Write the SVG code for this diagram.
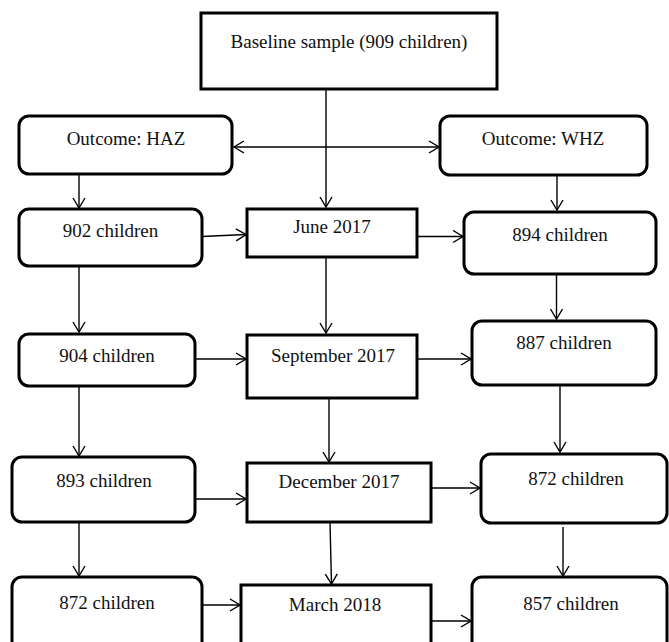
<svg xmlns="http://www.w3.org/2000/svg" width="669" height="642" viewBox="0 0 669 642">
<style>
.box{fill:#fff;stroke:#000;stroke-width:3}
.t{font-family:"Liberation Serif","Times New Roman",serif;font-size:19px;fill:#111;text-anchor:middle}
.c{fill:none;stroke:#000;stroke-width:1.4}
</style>
<defs>
<marker id="ah" viewBox="-11 -7 12 14" refX="0" refY="0" markerWidth="12" markerHeight="14" markerUnits="userSpaceOnUse" orient="auto-start-reverse">
<path d="M-10,-6 L0,0 L-10,6" fill="none" stroke="#000" stroke-width="1.4"/>
</marker>
</defs>
<rect width="669" height="642" fill="#fff"/>
<g id="connectors">
<line class="c" x1="326" y1="89" x2="326" y2="207" marker-end="url(#ah)"/>
<line class="c" x1="234" y1="147" x2="439" y2="147" marker-start="url(#ah)" marker-end="url(#ah)"/>
<line class="c" x1="79" y1="174" x2="79" y2="208" marker-end="url(#ah)"/>
<line class="c" x1="557" y1="175" x2="557" y2="210" marker-end="url(#ah)"/>
<line class="c" x1="202" y1="236.5" x2="246" y2="234.5" marker-end="url(#ah)"/>
<line class="c" x1="417" y1="236.5" x2="463" y2="236.5" marker-end="url(#ah)"/>
<line class="c" x1="79" y1="266" x2="79" y2="332" marker-end="url(#ah)"/>
<line class="c" x1="326" y1="257" x2="326" y2="333" marker-end="url(#ah)"/>
<line class="c" x1="556.5" y1="274" x2="556.5" y2="319" marker-end="url(#ah)"/>
<line class="c" x1="195" y1="359" x2="246" y2="359" marker-end="url(#ah)"/>
<line class="c" x1="417" y1="359" x2="471" y2="359" marker-end="url(#ah)"/>
<line class="c" x1="79" y1="386" x2="79" y2="456" marker-end="url(#ah)"/>
<line class="c" x1="329" y1="398" x2="329" y2="462" marker-end="url(#ah)"/>
<line class="c" x1="560" y1="385" x2="560" y2="452" marker-end="url(#ah)"/>
<line class="c" x1="195" y1="499" x2="246" y2="499" marker-end="url(#ah)"/>
<line class="c" x1="431" y1="488" x2="480" y2="488" marker-end="url(#ah)"/>
<line class="c" x1="79" y1="522" x2="79" y2="576" marker-end="url(#ah)"/>
<line class="c" x1="330" y1="522" x2="331.5" y2="584" marker-end="url(#ah)"/>
<line class="c" x1="563" y1="527" x2="563" y2="576" marker-end="url(#ah)"/>
<line class="c" x1="202" y1="605" x2="240" y2="605" marker-end="url(#ah)"/>
<line class="c" x1="431" y1="621" x2="471" y2="621" marker-end="url(#ah)"/>
</g>
<g id="baseline"><rect class="box" x="201" y="13" width="296" height="76"/><text class="t" x="349" y="48">Baseline sample (909 children)</text></g>
<g id="haz"><rect class="box" x="19" y="116" width="213" height="58" rx="10"/><text class="t" x="126" y="145">Outcome: HAZ</text></g>
<g id="whz"><rect class="box" x="440" y="116" width="207" height="59" rx="10"/><text class="t" x="543" y="145">Outcome: WHZ</text></g>
<g id="h902"><rect class="box" x="19" y="209" width="183" height="57" rx="10"/><text class="t" x="110.5" y="237">902 children</text></g>
<g id="june"><rect class="box" x="247" y="209" width="170" height="48"/><text class="t" x="332" y="233">June 2017</text></g>
<g id="w894"><rect class="box" x="464" y="212" width="192" height="62" rx="10"/><text class="t" x="560" y="241">894 children</text></g>
<g id="h904"><rect class="box" x="19" y="334" width="176" height="52" rx="10"/><text class="t" x="107" y="362">904 children</text></g>
<g id="sept"><rect class="box" x="247" y="335" width="170" height="63"/><text class="t" x="333" y="362">September 2017</text></g>
<g id="w887"><rect class="box" x="472" y="321" width="184" height="64" rx="10"/><text class="t" x="564" y="349">887 children</text></g>
<g id="h893"><rect class="box" x="12" y="457" width="183" height="65" rx="10"/><text class="t" x="104" y="487">893 children</text></g>
<g id="dec"><rect class="box" x="247" y="463" width="184" height="59"/><text class="t" x="339" y="488">December 2017</text></g>
<g id="w872"><rect class="box" x="481" y="454" width="186" height="69" rx="10"/><text class="t" x="576" y="485">872 children</text></g>
<g id="h872"><rect class="box" x="12" y="577" width="190" height="80" rx="10"/><text class="t" x="107" y="609">872 children</text></g>
<g id="march"><rect class="box" x="241" y="585" width="190" height="70"/><text class="t" x="335" y="611">March 2018</text></g>
<g id="w857"><rect class="box" x="472" y="577" width="195" height="80" rx="10"/><text class="t" x="571" y="610">857 children</text></g>
</svg>
